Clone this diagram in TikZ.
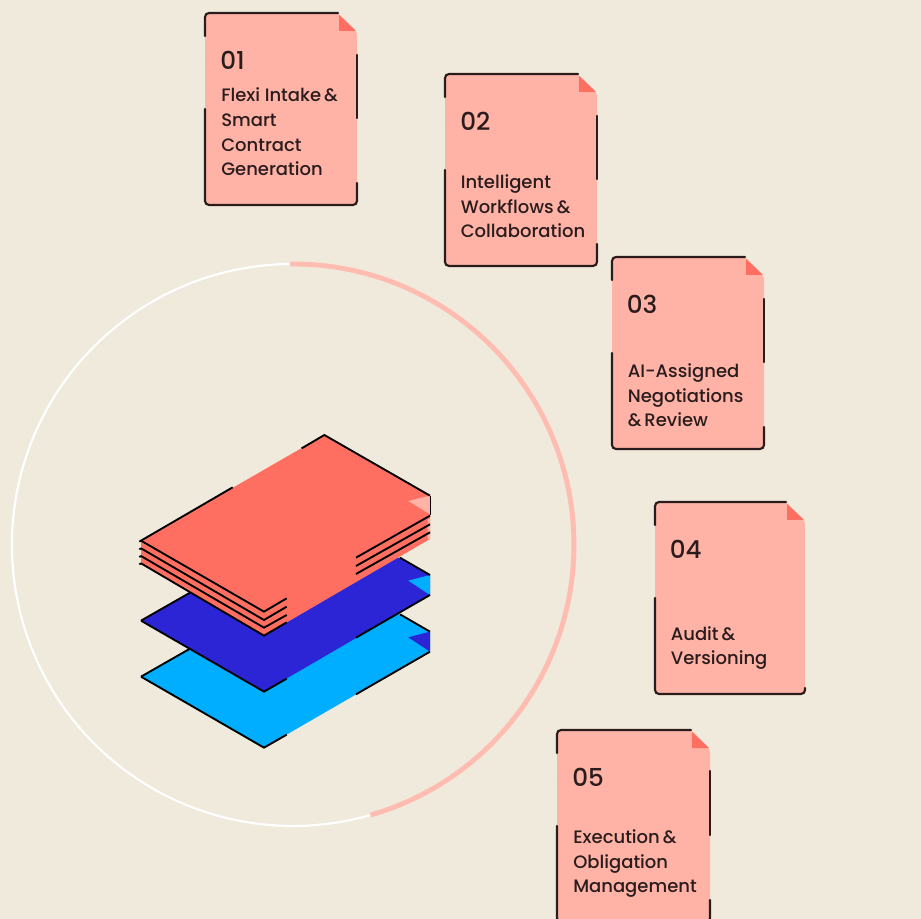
\documentclass[tikz,border=0pt]{standalone}
\usepackage{fontspec}
\setmainfont{Poppins}
\newfontfamily\medfont{Poppins Medium}
\definecolor{bgc}{HTML}{F0EADC}
\definecolor{cardc}{HTML}{FFB3A7}
\definecolor{ringc}{HTML}{FFBDB2}
\definecolor{inkc}{HTML}{2A1C1C}
\definecolor{coral}{HTML}{FF6F61}
\definecolor{navy}{HTML}{2B25D6}
\definecolor{sky}{HTML}{00AEFF}
\tikzset{
  px/.style={x=0.75pt,y=-0.75pt},
  ink/.style={draw=inkc,line width=1.6pt,line cap=round},
  stackink/.style={draw=black,line width=1.4pt,line cap=butt,line join=miter},
  numtxt/.style={anchor=base west,inner sep=0pt,text=inkc,font=\medfont\fontsize{18.5}{20}\selectfont},
  bodytxt/.style={anchor=south west,inner sep=0pt,text=inkc,text depth=0pt,align=left,font=\medfont\fontsize{13.5}{18.5}\selectfont},
}
\newcommand{\paperCard}[4]{%
  \begin{scope}[shift={(#1,#2)}]
    \pgfmathsetmacro{\foldx}{#4-19}
    \fill[cardc,rounded corners=2.5pt] (0,0) -- (\foldx,0) -- (#4,19) [sharp corners] -- (#4,192) -- (0,192) -- cycle;
    \fill[coral] (\foldx+1,2) -- (#4-1,18) -- (\foldx+1,18) -- cycle;
    \draw[ink,rounded corners=3pt] (0,23) -- (0,0) -- (\foldx,0);
    \draw[ink,rounded corners=3pt] (0,96) -- (0,192) -- (#4,192) -- (#4,#3);
  \end{scope}}
\begin{document}
\begin{tikzpicture}[px]
\useasboundingbox (0,0) rectangle (921,919);
\fill[bgc] (0,0) rectangle (921,919);
\clip (0,0) rectangle (921,919);

% ring
\draw[white,line width=1.6pt] (290,264) arc[start angle=-90.6,end angle=-286,radius=281];
\draw[ringc,line width=3.7pt] (290,264) arc[start angle=-90.6,end angle=74,radius=281];

% stack
\begin{scope}[shift={(130,425)},x=0.25pt,y=-0.25pt]
  \fill[sky] (33,755) -- (180,671) -- (402,560) -- (810,568) -- (900,620) -- (900,680) -- (402,968) -- cycle;
  \fill[navy] (835,637) -- (900,620) -- (900,680) -- cycle;
  \draw[stackink] (33,755) -- (180,671) (33,755) -- (402,968) -- (470,929) (678,808) -- (900,680) (810,568) -- (900,620);
  \fill[navy] (33,587) -- (180,503) -- (402,390) -- (810,398) -- (900,450) -- (900,510) -- (402,800) -- cycle;
  \fill[sky] (835,467) -- (900,450) -- (900,510) -- cycle;
  \draw[stackink] (33,587) -- (180,503) (33,587) -- (402,800) -- (470,761) (678,638) -- (900,510) (810,398) -- (900,450);
  \fill[coral] (33,347) -- (583,30) -- (900,212) -- (900,342) -- (402,632) -- (33,415) -- cycle;
  \fill[cardc] (835,228) -- (900,212) -- (900,268) -- cycle;
  \fill[cardc] (893,284) -- (900,280) -- (900,342) -- (893,342) -- cycle;
  \draw[coral,line width=1.1pt] (893,300) -- (900,296) (893,325) -- (900,320);
  \draw[stackink] (33,347) -- (308,187) (515,70) -- (583,30) -- (900,212);
  \draw[draw=black,line width=0.6pt] (900,212) -- (900,270);
  \draw[stackink] (33,347) -- (402,560) -- (470,520) (33,370) -- (402,585) -- (470,545) (33,393) -- (402,608) -- (470,570) (33,415) -- (402,632) -- (470,592);
  \draw[stackink] (678,398) -- (900,272) (678,423) -- (900,298) (678,447) -- (900,322);
  \draw[stackink] (33,347) -- (28,350) (33,370) -- (28,373) (33,393) -- (28,396) (33,415) -- (28,418);
\end{scope}

% cards
\paperCard{205}{13}{170}{152}
\draw[ink] (357,55) -- (357,118);
\node[numtxt] (n1) at (220,70) {01};
\node[bodytxt] (t1) at (221,176) {Flexi Intake\,\&\\Smart\\Contract\\Generation};

\paperCard{445}{74}{170}{152}
\draw[ink] (597,116) -- (597,179);
\node[numtxt] (n2) at (460,131) {02};
\node[bodytxt] (t2) at (460.5,238) {Intelligent\\Workflows\,\&\\Collaboration};

\paperCard{612}{257}{170}{152}
\draw[ink] (764,299) -- (764,362);
\node[numtxt] (n3) at (626.5,314) {03};
\node[bodytxt] (t3) at (627.5,427) {AI-Assigned\\Negotiations\\\&\,Review};

\paperCard{655}{502}{186}{150}
\node[numtxt] (n4) at (669.5,558) {04};
\node[bodytxt] (t4) at (670.5,665) {Audit\,\&\\Versioning};

\paperCard{557}{730}{170}{153}
\draw[ink] (710,771) -- (710,835);
\node[numtxt] (n5) at (572,786) {05};
\node[bodytxt] (t5) at (573,893) {Execution\,\&\\Obligation\\Management};
\end{tikzpicture}
\end{document}
